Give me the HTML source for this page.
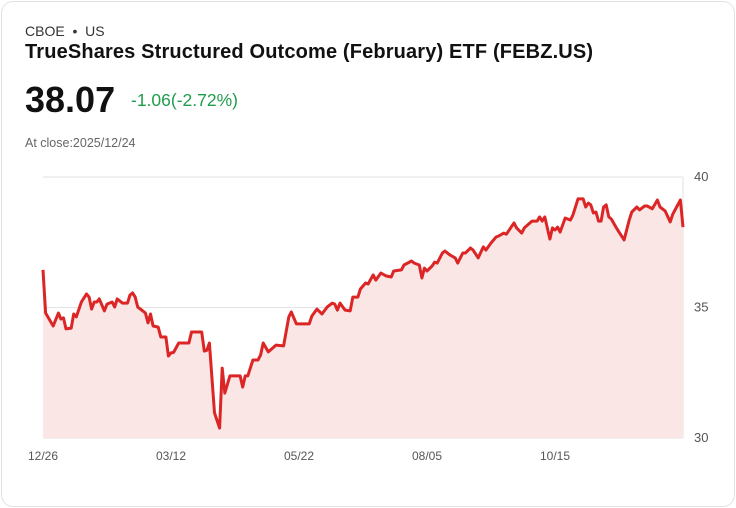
<!DOCTYPE html>
<html><head><meta charset="utf-8"><style>
body{margin:0;width:736px;height:508px;background:#fff;font-family:"Liberation Sans",sans-serif;overflow:hidden}
.card{position:absolute;left:1px;top:1px;width:732px;height:504px;border:1px solid #e3e3e3;border-radius:12px}
.t{position:absolute;white-space:nowrap}
</style></head><body>
<div class="card"></div>
<div class="t" style="left:25px;top:23px;font-size:14px;color:#333">CBOE &nbsp;•&nbsp; US</div>
<div class="t" style="left:25px;top:41px;font-size:20px;letter-spacing:0.15px;font-weight:bold;color:#111">TrueShares Structured Outcome (February) ETF (FEBZ.US)</div>
<div class="t" style="left:25px;top:79px;font-size:36px;font-weight:bold;color:#111">38.07</div>
<div class="t" style="left:131px;top:90px;font-size:17.5px;color:#1f9d4c">-1.06(-2.72%)</div>
<div class="t" style="left:25px;top:136px;font-size:12.5px;color:#666">At close:2025/12/24</div>
<svg id="chart" width="736" height="508" style="position:absolute;left:0;top:0"></svg>
<script>
const days=[0,1,4,6,7,8,9,11,12,13,15,17,18,19,20,21,22,24,25,27,28,29,31,33,34,35,36,37,39,40,41,42,43,45,46,48,49,50,51,53,57,58,62,63,64,65,67,69,70,71,73,77,78,79,80,82,84,85,86,88,91,94,96,97,99,104,105,107,109,111,113,114,115,116,118,120,121,123,124,126,127,129,130,132,134,136,137,140,141,144,145,147,148,149,150,152,153,154,156,157,159,161,162,164,165,167,168,170,172,173,175,177,178,180,181,184,185,187,188,191,193,194,195,196,198,199,200,201,202,204,206,207,209,211,212,213,214,215,216,217,218,219,220,221,222,224,225,227,229,230,232,233,235,236,238,240,241,243,245,246,249,250];
const prices=[36.44,34.79,34.29,34.79,34.56,34.6,34.18,34.21,34.75,34.64,35.21,35.52,35.4,34.94,35.21,35.21,35.33,34.87,35.13,35.21,35.02,35.33,35.17,35.17,35.48,35.56,35.4,35.02,34.87,34.79,34.41,34.75,34.29,34.25,33.87,33.87,33.14,33.26,33.28,33.64,33.64,34.06,34.06,33.33,33.36,33.64,30.96,30.38,32.68,31.72,32.38,32.38,31.95,32.38,32.38,32.99,32.99,33.18,33.64,33.3,33.56,33.53,34.64,34.83,34.37,34.37,34.67,34.94,34.75,35.02,35.17,35.13,34.9,35.17,34.9,34.87,35.4,35.4,35.71,35.94,35.9,36.25,36.05,36.32,36.21,36.17,36.4,36.44,36.63,36.78,36.7,36.63,36.13,36.51,36.4,36.59,36.74,36.7,37.09,37.16,37.01,36.9,36.7,37.09,37.09,37.28,37.2,36.9,37.32,37.2,37.47,37.7,37.74,37.85,37.81,38.24,38.05,37.85,38.05,38.31,38.31,38.47,38.31,38.47,37.62,38.05,37.97,38.08,37.89,38.43,38.35,38.54,39.16,39.16,38.85,39.0,38.93,38.62,38.66,38.31,38.31,38.85,38.93,38.47,38.39,38.05,37.89,37.59,38.35,38.66,38.85,38.74,38.89,38.89,38.78,39.12,38.85,38.7,38.28,38.58,39.12,38.08];
const yTicks=[30,35,40];
const xTickDays=[0,50,100,150,200];
const xTickLabels=["12/26","03/12","05/22","08/05","10/15"];
const svg=document.getElementById('chart');
const NS='http://www.w3.org/2000/svg';
const X0=43,X1=683,Y0=438,Y1=177,dMax=250,vMin=30,vMax=40;
const xs=d=>X0+(d/dMax)*(X1-X0);
const ys=v=>Y0-(v-vMin)/(vMax-vMin)*(Y0-Y1);
function mk(tag,attrs){const e=document.createElementNS(NS,tag);for(const k in attrs)e.setAttribute(k,attrs[k]);svg.appendChild(e);return e;}
yTicks.forEach(v=>{
 const l=mk('line',{x1:X0,x2:X1,y1:ys(v),y2:ys(v),stroke:'#e2e2e2','stroke-width':1});
 
 
 const t=mk('text',{x:694,y:ys(v)+4,'font-size':13,fill:'#555','font-family':'Liberation Sans, sans-serif'});
 t.textContent=v;
 
 
});
const vl=mk('line',{x1:X1,x2:X1,y1:Y1,y2:Y0,stroke:'#e2e2e2','stroke-width':1});


let pts=days.map((d,i)=>xs(d).toFixed(1)+','+ys(prices[i]).toFixed(1));
const area=mk('path',{d:'M'+xs(days[0])+','+Y0+' L'+pts.join(' L')+' L'+xs(days[days.length-1])+','+Y0+' Z',fill:'#fbe6e6'});


const line=mk('path',{d:'M'+pts.join(' L'),fill:'none',stroke:'#dc2626','stroke-width':3,'stroke-linejoin':'round'});


xTickDays.forEach((d,i)=>{
 const t=mk('text',{x:xs(d),y:460,'font-size':12,fill:'#555','text-anchor':'middle','font-family':'Liberation Sans, sans-serif'});
 t.textContent=xTickLabels[i];
 
 
});
</script>
</body></html>
